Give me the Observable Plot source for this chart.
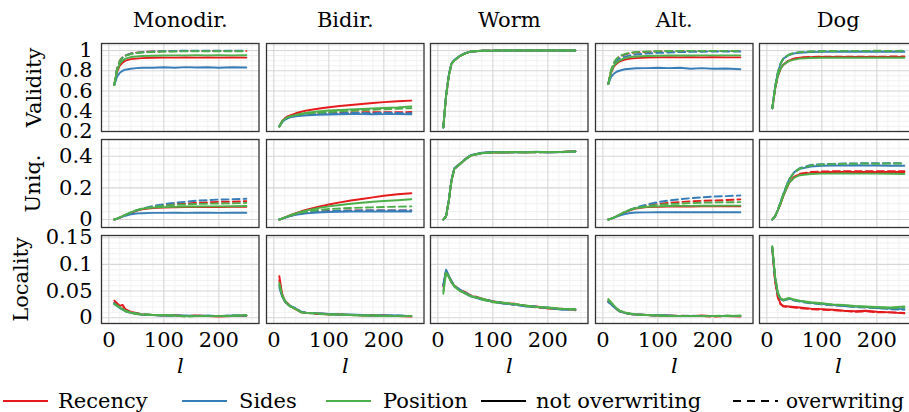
<!DOCTYPE html>
<html><head><meta charset="utf-8">
<script src="https://cdn.jsdelivr.net/npm/d3@7"></script>
<script src="https://cdn.jsdelivr.net/npm/@observablehq/plot@0.6"></script>
<style>
html,body{margin:0;padding:0;background:#fff;overflow:hidden}
#chart{position:relative;width:909px;height:412px;overflow:hidden}
#chart svg{position:absolute;overflow:visible;background:transparent;max-width:none}
</style></head><body><div id="chart"></div>
<script>
// ---------- data ----------
const lengths = [10,15,20,25,30,40,50,60,80,100,120,140,160,180,200,225,250];
const panels = ["Monodir.","Bidir.","Worm","Alt.","Dog"];
const metrics = ["Validity","Uniq.","Locality"];
const methods = ["Recency","Sides","Position"];
const methodColors = ["#e41a1c","#377eb8","#4daf4a"];
const styleNames = ["not overwriting","overwriting"];
// each panel: [Recency solid, Recency dashed, Sides solid, Sides dashed, Position solid, Position dashed]
const validityMonodir = [
 [.66,.79,.85,.88,.90,.915,.92,.925,.928,.93,.93,.932,.93,.932,.93,.931,.93],
 [.66,.82,.90,.935,.95,.97,.978,.984,.99,.992,.994,.995,.995,.996,.995,.996,.996],
 [.66,.74,.78,.80,.81,.82,.826,.83,.83,.834,.83,.836,.832,.835,.83,.834,.832],
 [.66,.82,.89,.93,.95,.968,.976,.982,.99,.994,.996,.998,.998,.998,.998,.998,.998],
 [.66,.80,.87,.90,.92,.935,.94,.945,.948,.95,.952,.952,.953,.952,.953,.952,.953],
 [.66,.82,.90,.93,.948,.965,.975,.98,.986,.99,.99,.992,.992,.993,.993,.993,.993]
];
const validityBidir = [
 [.25,.30,.33,.35,.36,.38,.395,.408,.425,.44,.452,.462,.472,.482,.49,.498,.505],
 [.25,.30,.33,.345,.355,.365,.372,.376,.382,.385,.387,.388,.39,.39,.391,.39,.392],
 [.25,.29,.315,.33,.34,.35,.355,.36,.365,.368,.37,.372,.372,.371,.372,.372,.37],
 [.25,.295,.32,.335,.345,.358,.365,.37,.375,.378,.38,.383,.384,.38,.385,.382,.38],
 [.25,.30,.325,.34,.35,.365,.375,.385,.398,.407,.413,.418,.422,.428,.432,.438,.447],
 [.25,.30,.325,.34,.35,.362,.37,.376,.385,.392,.40,.405,.41,.415,.42,.425,.43]
];
const validityWorm = [
 [.24,.55,.75,.87,.90,.945,.972,.99,.997,.999,1,1,1,1,1,1,1],
 [.24,.55,.75,.87,.90,.946,.973,.99,.997,.999,1,1,1,1,1,1,1],
 [.24,.56,.76,.875,.905,.948,.974,.99,.998,.999,1,1,1,1,1,1,1],
 [.24,.56,.76,.875,.905,.948,.974,.99,.998,.999,1,1,1,1,1,1,1],
 [.24,.55,.75,.87,.90,.945,.972,.99,.997,.999,1,1,1,1,1,1,1],
 [.24,.55,.75,.87,.90,.945,.972,.99,.997,.999,1,1,1,1,1,1,1]
];
const validityAlt = [
 [.67,.78,.84,.87,.89,.91,.92,.925,.93,.932,.933,.932,.934,.932,.933,.932,.932],
 [.67,.80,.87,.91,.94,.96,.975,.98,.986,.99,.992,.994,.995,.995,.996,.995,.996],
 [.67,.74,.77,.79,.80,.815,.82,.824,.826,.83,.826,.83,.82,.826,.82,.822,.815],
 [.67,.79,.86,.90,.92,.94,.952,.96,.97,.976,.98,.984,.986,.988,.99,.99,.99],
 [.67,.79,.85,.88,.90,.925,.935,.94,.945,.948,.95,.951,.951,.952,.952,.952,.952],
 [.67,.81,.88,.92,.945,.965,.978,.985,.99,.993,.995,.996,.996,.996,.996,.996,.996]
];
const validityDog = [
 [.43,.62,.75,.82,.86,.90,.92,.928,.933,.935,.935,.936,.935,.936,.935,.936,.935],
 [.43,.62,.75,.82,.86,.90,.92,.93,.936,.938,.938,.939,.938,.94,.939,.94,.94],
 [.43,.64,.78,.87,.92,.955,.972,.978,.984,.986,.987,.987,.988,.987,.988,.987,.988],
 [.43,.64,.78,.87,.92,.958,.975,.983,.99,.993,.994,.995,.995,.996,.995,.996,.996],
 [.43,.62,.75,.82,.86,.895,.91,.92,.926,.928,.928,.929,.928,.93,.928,.929,.928],
 [.43,.64,.78,.87,.92,.958,.975,.984,.99,.993,.995,.996,.996,.996,.997,.996,.997]
];
const uniqMonodir = [
 [0,.005,.012,.02,.028,.042,.055,.064,.072,.075,.077,.078,.078,.079,.079,.08,.08],
 [0,.005,.012,.02,.028,.042,.056,.066,.08,.09,.097,.10,.106,.108,.112,.112,.116],
 [0,.005,.012,.018,.024,.033,.038,.040,.042,.042,.043,.042,.043,.043,.042,.043,.043],
 [0,.005,.012,.02,.028,.043,.057,.068,.085,.097,.106,.112,.119,.122,.126,.128,.131],
 [0,.006,.013,.022,.03,.045,.058,.068,.075,.078,.08,.082,.082,.083,.083,.084,.085],
 [0,.006,.013,.022,.03,.045,.058,.068,.08,.088,.092,.095,.098,.10,.101,.102,.105]
];
const uniqBidir = [
 [0,.006,.013,.02,.027,.04,.052,.062,.08,.095,.108,.12,.13,.14,.15,.16,.166],
 [0,.006,.012,.018,.024,.033,.04,.045,.05,.054,.056,.057,.058,.058,.058,.058,.058],
 [0,.005,.011,.016,.021,.029,.035,.039,.044,.047,.049,.05,.05,.05,.051,.051,.051],
 [0,.006,.012,.018,.024,.033,.04,.045,.05,.053,.055,.056,.057,.057,.058,.058,.058],
 [0,.006,.013,.02,.027,.039,.05,.058,.072,.083,.092,.10,.106,.112,.117,.122,.128],
 [0,.006,.012,.019,.025,.035,.044,.05,.06,.066,.07,.073,.075,.077,.079,.081,.083]
];
const uniqWorm = [
 [0,.02,.12,.25,.32,.35,.38,.405,.42,.425,.423,.428,.424,.428,.425,.427,.433],
 [0,.02,.12,.25,.322,.352,.382,.406,.421,.424,.426,.425,.427,.424,.428,.426,.431],
 [0,.021,.125,.255,.325,.352,.383,.407,.422,.428,.424,.427,.425,.429,.424,.428,.43],
 [0,.02,.12,.25,.32,.35,.38,.405,.42,.426,.427,.424,.428,.425,.427,.425,.432],
 [0,.02,.12,.25,.32,.35,.379,.404,.419,.424,.425,.426,.424,.427,.426,.427,.43],
 [0,.02,.12,.25,.32,.351,.381,.405,.42,.425,.424,.428,.425,.426,.425,.428,.431]
];
const uniqAlt = [
 [0,.005,.012,.02,.028,.045,.06,.07,.078,.08,.082,.082,.082,.083,.083,.083,.083],
 [0,.005,.012,.02,.028,.045,.06,.072,.088,.098,.105,.11,.115,.118,.12,.123,.127],
 [0,.005,.011,.018,.025,.035,.041,.044,.045,.046,.046,.046,.046,.046,.046,.046,.046],
 [0,.005,.012,.02,.028,.046,.062,.076,.095,.11,.12,.128,.135,.14,.145,.148,.152],
 [0,.005,.012,.021,.03,.048,.062,.072,.08,.083,.085,.086,.086,.087,.087,.088,.088],
 [0,.005,.012,.021,.03,.048,.062,.072,.085,.093,.098,.10,.104,.106,.108,.109,.11]
];
const uniqDog = [
 [0,.02,.06,.10,.15,.23,.27,.285,.295,.298,.30,.30,.301,.30,.30,.301,.30],
 [0,.02,.06,.10,.15,.23,.27,.29,.30,.304,.305,.305,.306,.305,.305,.306,.305],
 [0,.02,.06,.11,.16,.25,.30,.32,.335,.34,.342,.342,.343,.342,.342,.34,.34],
 [0,.02,.06,.11,.16,.25,.30,.325,.345,.35,.352,.355,.355,.356,.356,.356,.356],
 [0,.02,.06,.10,.15,.23,.265,.28,.288,.29,.29,.291,.29,.29,.29,.289,.288],
 [0,.02,.06,.11,.16,.25,.30,.322,.342,.348,.35,.352,.353,.354,.353,.354,.354]
];
const localityMonodir = [
 [.032,.027,.022,.024,.016,.011,.009,.006,.005,.004,.005,.003,.004,.003,.002,.003,.004],
 [.028,.024,.02,.021,.015,.01,.008,.006,.005,.005,.004,.003,.004,.003,.003,.003,.003],
 [.026,.022,.018,.015,.012,.009,.007,.006,.005,.004,.004,.004,.003,.004,.003,.004,.004],
 [.027,.023,.019,.016,.013,.01,.008,.006,.005,.004,.004,.003,.004,.003,.003,.004,.004],
 [.025,.023,.019,.016,.012,.009,.007,.006,.005,.005,.004,.003,.003,.003,.003,.003,.005],
 [.026,.022,.02,.017,.013,.01,.008,.007,.005,.004,.004,.002,.003,.003,.003,.004,.004]
];
const localityBidir = [
 [.078,.045,.032,.027,.022,.016,.01,.009,.008,.007,.006,.005,.005,.004,.004,.003,.002],
 [.07,.042,.03,.026,.021,.016,.01,.009,.007,.006,.006,.005,.004,.005,.004,.003,.003],
 [.056,.04,.03,.025,.021,.017,.011,.009,.008,.007,.006,.006,.005,.004,.004,.004,.003],
 [.06,.041,.031,.026,.022,.018,.011,.009,.008,.007,.005,.005,.005,.004,.004,.004,.003],
 [.065,.043,.032,.026,.021,.016,.01,.009,.008,.006,.006,.005,.004,.004,.003,.003,.003],
 [.062,.042,.031,.025,.021,.017,.01,.009,.007,.006,.006,.005,.004,.004,.004,.003,.003]
];
const localityWorm = [
 [.06,.088,.078,.068,.06,.052,.048,.041,.035,.031,.027,.026,.022,.021,.017,.016,.015],
 [.058,.086,.077,.066,.061,.051,.046,.042,.036,.029,.028,.024,.023,.019,.018,.017,.014],
 [.062,.09,.079,.067,.059,.053,.045,.04,.034,.03,.026,.025,.021,.02,.019,.015,.016],
 [.06,.087,.078,.069,.06,.052,.047,.041,.035,.031,.027,.024,.022,.021,.018,.016,.015],
 [.045,.085,.076,.066,.058,.05,.046,.04,.036,.03,.028,.025,.023,.02,.019,.017,.016],
 [.05,.086,.077,.067,.06,.051,.045,.041,.034,.029,.027,.026,.022,.02,.018,.016,.015]
];
const localityAlt = [
 [.031,.027,.022,.017,.013,.009,.007,.006,.005,.004,.004,.003,.003,.004,.003,.003,.002],
 [.03,.026,.021,.016,.012,.009,.007,.006,.005,.004,.003,.004,.003,.003,.002,.003,.003],
 [.029,.025,.02,.016,.012,.009,.007,.006,.005,.005,.004,.003,.003,.003,.003,.003,.003],
 [.03,.026,.021,.017,.013,.009,.007,.006,.005,.004,.004,.003,.004,.003,.003,.003,.003],
 [.035,.029,.023,.018,.013,.01,.008,.006,.005,.004,.003,.003,.003,.003,.003,.003,.004],
 [.033,.028,.022,.017,.013,.009,.007,.006,.005,.004,.004,.003,.003,.003,.003,.004,.003]
];
const localityDog = [
 [.13,.07,.04,.026,.022,.021,.02,.019,.017,.016,.015,.013,.012,.013,.011,.01,.008],
 [.128,.068,.038,.025,.021,.02,.019,.018,.016,.015,.014,.013,.011,.012,.01,.01,.009],
 [.13,.075,.045,.035,.033,.036,.033,.031,.028,.026,.024,.022,.021,.02,.018,.017,.016],
 [.132,.076,.046,.034,.032,.035,.032,.03,.027,.025,.023,.022,.02,.019,.018,.016,.015],
 [.134,.078,.047,.036,.034,.037,.034,.032,.029,.027,.025,.024,.022,.021,.02,.019,.021],
 [.133,.077,.046,.035,.033,.036,.033,.031,.028,.026,.024,.023,.021,.02,.019,.018,.019]
];
// ticks
const xMajorTicks = [0,100,200];
const xMinorTicks = [20,40,60,80,120,140,160,180,220,240,260];
const validityTicks = [0.2,0.4,0.6,0.8,1];
const validityMinor = [0.25,0.3,0.35,0.45,0.5,0.55,0.65,0.7,0.75,0.85,0.9,0.95,1.05];
const uniqTicks = [0,0.2,0.4];
const uniqMinor = [-0.05,0.05,0.1,0.15,0.25,0.3,0.35,0.45,0.5];
const localityTicks = [0,0.05,0.1,0.15];
const localityMinor = [-0.01,0.01,0.02,0.03,0.04,0.06,0.07,0.08,0.09,0.11,0.12,0.13,0.14];

// ---------- layout ----------
const grid = [
  [validityMonodir, validityBidir, validityWorm, validityAlt, validityDog],
  [uniqMonodir, uniqBidir, uniqWorm, uniqAlt, uniqDog],
  [localityMonodir, localityBidir, localityWorm, localityAlt, localityDog]
];
const yDomains = [[0.2,1.069],[-0.0506,0.506],[-0.0109,0.1541]];
const yMajor = [validityTicks, uniqTicks, localityTicks];
const yMinor = [validityMinor, uniqMinor, localityMinor];
const xDomain = [-13.3, 273];
const colLefts = [100.7,265.7,430.3,594.7,759.3];
const rowTops = [43.3,139,234.5];
const PW = 157.5, PH = 88;
const ylabelDx = [-60.5,-61.5,-73.5];
const FONT = "DejaVu Serif";
const FS = 21;

const chart = document.getElementById("chart");

function rowsOf(block){
  const out = [];
  block.forEach((vals, s) => vals.forEach((v, i) => out.push({l: lengths[i], v, method: methods[s >> 1], overwriting: s % 2 === 1, s})));
  return out;
}

for (let r = 0; r < 3; r++) {
  for (let c = 0; c < 5; c++) {
    const rows = rowsOf(grid[r][c]);
    const marks = [
      Plot.gridX(xMinorTicks, {stroke: "#efefef", strokeOpacity: 1, strokeWidth: 0.9}),
      Plot.gridY(yMinor[r], {stroke: "#efefef", strokeOpacity: 1, strokeWidth: 0.9}),
      Plot.gridX(xMajorTicks, {stroke: "#d6d6d6", strokeOpacity: 1, strokeWidth: 1.1}),
      Plot.gridY(yMajor[r], {stroke: "#d6d6d6", strokeOpacity: 1, strokeWidth: 1.1})
    ];
    for (let s = 0; s < 6; s++) {
      const opts = {x: "l", y: "v", stroke: methodColors[s >> 1], strokeWidth: 1.9, strokeLinejoin: "round"};
      if (s % 2 === 1) opts.strokeDasharray = "7,4";
      marks.push(Plot.line(rows.filter(d => d.s === s), opts));
    }
    marks.push(Plot.frame({stroke: "#333", strokeWidth: 1.3}));
    if (c === 0) {
      marks.push(Plot.axisY(yMajor[r], {tickSize: 0, tickPadding: 9, label: null, fontFamily: FONT, fontSize: FS, fontVariant: "normal", tickFormat: d => String(d)}));
      marks.push(Plot.text([metrics[r]], {frameAnchor: "left", rotate: -90, dx: ylabelDx[r], textAnchor: "middle", lineAnchor: "bottom", fontFamily: FONT, fontSize: FS}));
    }
    if (r === 2) {
      marks.push(Plot.axisX(xMajorTicks, {tickSize: 0, tickPadding: 9, label: null, fontFamily: FONT, fontSize: FS, fontVariant: "normal", tickFormat: d => String(d)}));
      marks.push(Plot.text(["l"], {frameAnchor: "bottom", dy: 49.5, lineAnchor: "bottom", fontStyle: "italic", fontFamily: FONT, fontSize: FS}));
    }
    if (r === 0) {
      marks.push(Plot.text([panels[c]], {frameAnchor: "top", dy: -16.5, lineAnchor: "bottom", fontFamily: FONT, fontSize: FS}));
    }
    const svg = Plot.plot({
      width: PW, height: PH, margin: 0,
      x: {domain: xDomain, axis: r === 2 ? undefined : null, label: null},
      y: {domain: yDomains[r], axis: c === 0 ? undefined : null, label: null},
      marks
    });
    svg.style.position = "absolute";
    svg.style.left = colLefts[c] + "px";
    svg.style.top = rowTops[r] + "px";
    svg.style.overflow = "visible";
    svg.style.background = "transparent";
    svg.style.fontFamily = FONT;
    chart.appendChild(svg);
  }
}

// ---------- legend ----------
const legendItems = [
  {label: methods[0], color: methodColors[0], dash: null, x0: 3, tx: 58},
  {label: methods[1], color: methodColors[1], dash: null, x0: 182, tx: 239},
  {label: methods[2], color: methodColors[2], dash: null, x0: 326, tx: 383},
  {label: styleNames[0], color: "#000", dash: null, x0: 481, tx: 536},
  {label: styleNames[1], color: "#000", dash: "8,6", x0: 733, tx: 786}
];
const leg = d3.create("svg").attr("width", 909).attr("height", 30)
  .style("left", "0px").style("top", "384px");
for (const it of legendItems) {
  leg.append("line").attr("x1", it.x0).attr("x2", it.x0 + 45).attr("y1", 17).attr("y2", 17)
    .attr("stroke", it.color).attr("stroke-width", 1.8).attr("stroke-dasharray", it.dash);
  leg.append("text").attr("x", it.tx).attr("y", 24).attr("fill", "#000")
    .attr("font-family", FONT).attr("font-size", it.label === styleNames[1] ? 20 : FS).text(it.label);
}
chart.appendChild(leg.node());
</script>
</body></html>
